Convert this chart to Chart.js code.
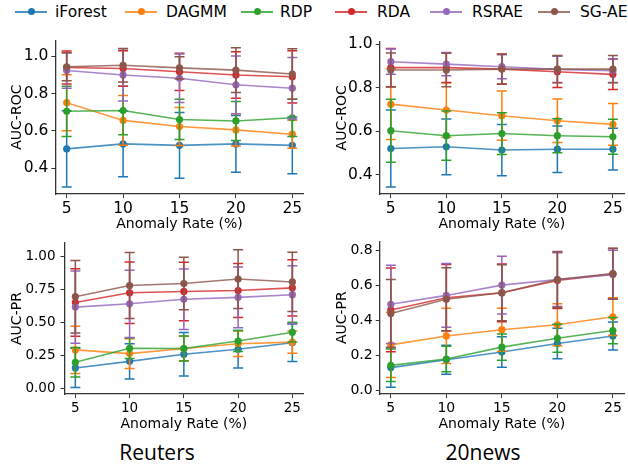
<!DOCTYPE html>
<html><head><meta charset="utf-8">
<script src="https://cdn.jsdelivr.net/npm/chart.js@4.4.0/dist/chart.umd.min.js"></script>
<style>
body{margin:0;background:#fff;width:628px;height:473px;overflow:hidden;position:relative;font-family:"DejaVu Sans",sans-serif;}
canvas{position:absolute;}
.ln{position:absolute;top:11px;height:1.6px;width:32px;}
.dt{position:absolute;top:8.3px;width:7px;height:7px;border-radius:50%;}
.tx{position:absolute;top:2px;font-size:15.5px;line-height:20px;color:#000;white-space:nowrap;}
.ds{position:absolute;font-family:"Open Sans",sans-serif;font-size:21px;color:#000;transform:translate(-50%,-50%);white-space:nowrap;}
</style></head><body>
<div id="legend"></div>
<canvas id="c1" width="314" height="210" style="left:0;top:28px"></canvas>
<canvas id="c2" width="314" height="210" style="left:314px;top:28px"></canvas>
<canvas id="c3" width="314" height="205" style="left:0;top:230px"></canvas>
<canvas id="c4" width="314" height="205" style="left:314px;top:230px"></canvas>
<div class="ds" style="left:157px;top:452px">Reuters</div>
<div class="ds" style="left:483px;top:452px">20news</div>
<script>
// ---------- data ----------
const rates = [5, 10, 15, 20, 25];
const methods = ['iForest', 'DAGMM', 'RDP', 'RDA', 'RSRAE', 'SG-AE'];
const colors = ['#1f77b4', '#ff7f0e', '#2ca02c', '#d62728', '#9467bd', '#8c564b'];

// Reuters AUC-ROC
const reutersRocMean = [
  [0.503, 0.530, 0.522, 0.530, 0.522],
  [0.751, 0.656, 0.623, 0.605, 0.582],
  [0.705, 0.709, 0.661, 0.653, 0.670],
  [0.940, 0.935, 0.917, 0.900, 0.890],
  [0.924, 0.900, 0.882, 0.847, 0.829],
  [0.944, 0.952, 0.938, 0.926, 0.905]
];
const reutersRocErr = [
  [0.205, 0.177, 0.177, 0.152, 0.152],
  [0.150, 0.134, 0.102, 0.087, 0.075],
  [0.135, 0.130, 0.108, 0.105, 0.100],
  [0.088, 0.095, 0.100, 0.125, 0.140],
  [0.095, 0.140, 0.130, 0.155, 0.165],
  [0.075, 0.090, 0.060, 0.120, 0.135]
];
// 20news AUC-ROC
const newsRocMean = [
  [0.521, 0.529, 0.514, 0.518, 0.518],
  [0.725, 0.698, 0.672, 0.649, 0.632],
  [0.603, 0.580, 0.590, 0.580, 0.575],
  [0.893, 0.893, 0.886, 0.874, 0.862],
  [0.920, 0.909, 0.897, 0.885, 0.879],
  [0.882, 0.882, 0.886, 0.886, 0.886]
];
const newsRocErr = [
  [0.177, 0.128, 0.118, 0.107, 0.096],
  [0.163, 0.125, 0.113, 0.100, 0.096],
  [0.145, 0.113, 0.096, 0.078, 0.080],
  [0.088, 0.068, 0.070, 0.072, 0.070],
  [0.058, 0.053, 0.055, 0.060, 0.055],
  [0.078, 0.077, 0.068, 0.063, 0.063]
];
// Reuters AUC-PR
const reutersPrMean = [
  [0.156, 0.206, 0.260, 0.298, 0.347],
  [0.293, 0.265, 0.303, 0.340, 0.352],
  [0.199, 0.305, 0.303, 0.360, 0.427],
  [0.653, 0.727, 0.737, 0.744, 0.764],
  [0.618, 0.643, 0.677, 0.692, 0.712],
  [0.697, 0.782, 0.797, 0.831, 0.809]
];
const reutersPrErr = [
  [0.149, 0.134, 0.166, 0.142, 0.143],
  [0.180, 0.113, 0.093, 0.097, 0.085],
  [0.112, 0.078, 0.095, 0.080, 0.075],
  [0.256, 0.233, 0.222, 0.205, 0.213],
  [0.275, 0.255, 0.230, 0.230, 0.220],
  [0.275, 0.250, 0.200, 0.223, 0.225]
];
// 20news AUC-PR
const newsPrMean = [
  [0.130, 0.175, 0.219, 0.268, 0.311],
  [0.260, 0.311, 0.347, 0.375, 0.421],
  [0.143, 0.179, 0.247, 0.298, 0.342],
  [0.460, 0.530, 0.558, 0.628, 0.666],
  [0.492, 0.543, 0.602, 0.634, 0.662],
  [0.440, 0.521, 0.558, 0.634, 0.668]
];
const newsPrErr = [
  [0.113, 0.083, 0.087, 0.087, 0.080],
  [0.187, 0.158, 0.123, 0.120, 0.108],
  [0.093, 0.073, 0.075, 0.080, 0.075],
  [0.240, 0.190, 0.165, 0.160, 0.145],
  [0.224, 0.182, 0.165, 0.155, 0.140],
  [0.194, 0.180, 0.160, 0.160, 0.145]
];
const rocTicks = [0.4, 0.6, 0.8, 1.0];
const reutersPrTicks = [0.00, 0.25, 0.50, 0.75, 1.00];
const newsPrTicks = [0.0, 0.2, 0.4, 0.6, 0.8];

// ---------- legend ----------
const legPos = [[15, 55], [125, 166], [241, 280], [335, 377], [430, 472], [538, 580]];
const leg = document.getElementById('legend');
methods.forEach((m, i) => {
  const [lx, tx] = legPos[i];
  leg.insertAdjacentHTML('beforeend',
    `<div class="ln" style="left:${lx}px;background:${colors[i]};opacity:0.8"></div>` +
    `<div class="dt" style="left:${lx + 12.5}px;background:${colors[i]}"></div>` +
    `<div class="tx" style="left:${tx}px">${m}</div>`);
});

// ---------- error bar plugin ----------
const errorBars = {
  id: 'errorBars',
  beforeDatasetDraw(chart, args) {
    const ds = chart.data.datasets[args.index];
    const xs = chart.scales.x, ys = chart.scales.y, ctx = chart.ctx;
    ctx.save();
    ctx.strokeStyle = ds.pointBackgroundColor;
    ctx.lineWidth = 1.5;
    ds.data.forEach((p, i) => {
      const e = ds.errors[i];
      const px = xs.getPixelForValue(p.x);
      const y1 = ys.getPixelForValue(p.y - e), y2 = ys.getPixelForValue(p.y + e);
      ctx.beginPath();
      ctx.moveTo(px, y1); ctx.lineTo(px, y2);
      ctx.moveTo(px - 5, y1); ctx.lineTo(px + 5, y1);
      ctx.moveTo(px - 5, y2); ctx.lineTo(px + 5, y2);
      ctx.stroke();
    });
    ctx.restore();
  }
};

function hexA(h, a) {
  const r = parseInt(h.slice(1, 3), 16), g = parseInt(h.slice(3, 5), 16), b = parseInt(h.slice(5, 7), 16);
  return `rgba(${r},${g},${b},${a})`;
}

function panel(id, means, errs, yTicks, yDec, yLabel, p) {
  const datasets = methods.map((m, i) => ({
    label: m,
    data: rates.map((r, j) => ({ x: r, y: means[i][j] })),
    errors: errs[i],
    borderColor: hexA(colors[i], 0.8),
    pointBackgroundColor: colors[i],
    pointBorderColor: colors[i],
    pointBorderWidth: 0,
    pointRadius: 3.6,
    borderWidth: 1.6,
    tension: 0,
    fill: false,
    clip: false,
    order: methods.length - i
  }));
  const tickFont = { family: 'DejaVu Sans', size: p.tickSize };
  const titleFont = { family: 'DejaVu Sans', size: 14 };
  new Chart(document.getElementById(id), {
    type: 'line',
    data: { datasets },
    plugins: [errorBars],
    options: {
      responsive: false, animation: false, devicePixelRatio: 1,
      layout: { padding: { top: p.padTop, right: p.padRight, left: 0, bottom: 0 } },
      plugins: { legend: { display: false }, tooltip: { enabled: false } },
      scales: {
        x: {
          type: 'linear', min: 4, max: 26,
          afterBuildTicks: s => { s.ticks = rates.map(v => ({ value: v })); },
          afterFit: s => { s.height = p.xH; },
          ticks: { font: tickFont, color: '#000', padding: 2, maxRotation: 0, callback: v => String(v) },
          grid: { display: true, drawOnChartArea: false, drawTicks: true, tickLength: 4, color: '#333', lineWidth: 1 },
          border: { display: true, color: '#333', width: 1.3 },
          title: { display: true, text: 'Anomaly Rate (%)', font: titleFont, color: '#000', padding: { top: 0, bottom: p.xTitlePad } }
        },
        y: {
          type: 'linear', min: p.yMin, max: p.yMax,
          afterBuildTicks: s => { s.ticks = yTicks.map(v => ({ value: v })); },
          afterFit: s => { s.width = p.yW; },
          ticks: { font: tickFont, color: '#000', padding: p.yTickPad, callback: v => Number(v).toFixed(yDec) },
          grid: { display: true, drawOnChartArea: false, drawTicks: true, tickLength: 4, color: '#333', lineWidth: 1 },
          border: { display: true, color: '#333', width: 1.3 },
          title: { display: true, text: yLabel, font: titleFont, color: '#000', padding: { top: p.yTitlePad, bottom: 0 } }
        }
      }
    }
  });
}

panel('c1', reutersRocMean, reutersRocErr, rocTicks, 1, 'AUC-ROC',
  { tickSize: 15.5, padTop: 10, padRight: 10.4, yW: 55.4, xH: 44, xTitlePad: 5.6, yTitlePad: 9, yTickPad: 3, yMin: 0.261, yMax: 1.086 });
panel('c2', newsRocMean, newsRocErr, rocTicks, 1, 'AUC-ROC',
  { tickSize: 15.5, padTop: 13.7, padRight: 0, yW: 65.7, xH: 44, xTitlePad: 5.6, yTitlePad: 19.6, yTickPad: 3, yMin: 0.312, yMax: 1.012 });
panel('c3', reutersPrMean, reutersPrErr, reutersPrTicks, 2, 'AUC-PR',
  { tickSize: 13.5, padTop: 10, padRight: 10.8, yW: 64.5, xH: 41, xTitlePad: 2.6, yTitlePad: 9, yTickPad: 5, yMin: -0.042, yMax: 1.104 });
panel('c4', newsPrMean, newsPrErr, newsPrTicks, 1, 'AUC-PR',
  { tickSize: 14, padTop: 10, padRight: 0, yW: 65.7, xH: 41, xTitlePad: 2.6, yTitlePad: 19.6, yTickPad: 3, yMin: -0.021, yMax: 0.852 });
</script>
</body></html>
